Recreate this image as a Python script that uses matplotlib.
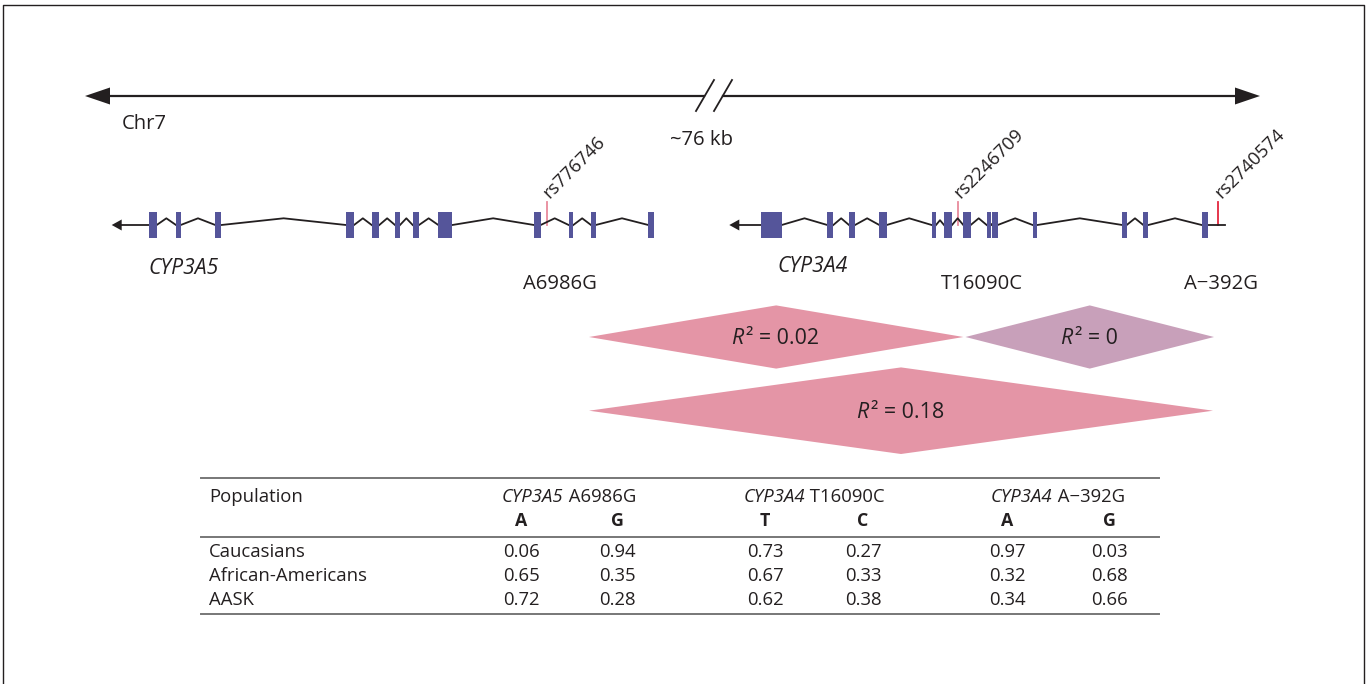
import numpy as np
import matplotlib
matplotlib.use("Agg")
import matplotlib.pyplot as plt
from matplotlib.patches import Polygon, Rectangle

# gene models (exon start/end along the drawn chromosome axis)
cyp3a5_exons=[(149,156.7),(176,180.7),(215.3,221.3),(346,354),(371.7,379.3),(395,400),
              (412.7,419),(438.3,452.3),(534,540.7),(568.7,573.3),(591,595.7),(648.3,654.3)]
cyp3a4_exons=[(760.7,781.7),(827.3,833.3),(849,855),(879.3,886.7),(931.7,936),(944,952),
              (963.3,970.7),(986.7,990.7),(992.3,997.7),(1032.7,1037.3),(1122.3,1126.7),
              (1143.3,1148.3),(1201.7,1208.3)]
genes=['CYP3A5','CYP3A4']

# SNPs
snp_pos=[546.7,957.7,1218.3]
snp_ids=['rs776746','rs2246709','rs2740574']
snp_names=['A6986G','T16090C','A\u2212392G']

# pairwise LD
r2_vals=[0.02,0,0.18]

# allele frequencies
populations=['Caucasians','African-Americans','AASK']
alleles=['A','G','T','C','A','G']
freqs=[[0.06,0.94,0.73,0.27,0.97,0.03],
       [0.65,0.35,0.67,0.33,0.32,0.68],
       [0.72,0.28,0.62,0.38,0.34,0.66]]

# style
FF=['Open Sans','DejaVu Sans']
plt.rcParams['font.family']=FF
FS=13.3   # table
FL=14.6   # labels
K='#231f20'
exc='#55559a'
snpc=['#e88a9c','#e88a9c','#e3263e']
pink='#e495a6'; mauve='#c8a0ba'; rulec='#777777'

fig=plt.figure(figsize=(13.67,6.84),dpi=100)
ax=fig.add_axes([0,0,1,1])
ax.set_xlim(0,1367); ax.set_ylim(684,0); ax.axis('off')
rend=fig.canvas.get_renderer()

# italic part followed by upright part, centred on x
def mixed(x,y,it,rm,fs,gap=0):
    t1=ax.text(x,y,it,fontsize=fs,style='italic',color=K,ha='left',va='center')
    t2=ax.annotate(rm,xy=(1,0),xycoords=t1,xytext=(gap,0),textcoords='offset points',
                   fontsize=fs,color=K,ha='left',va='bottom')
    w=t1.get_window_extent(rend).width+t2.get_window_extent(rend).width+gap*100/72
    t1.set_x(x-w/2)

# frame
ax.plot([3,3,1364,1364],[684,5,5,684],color=K,lw=1.0)

# chromosome arrow with break
yc=96
ax.plot([107,704],[yc,yc],color=K,lw=1.6)
ax.plot([723,1238],[yc,yc],color=K,lw=1.6)
ax.add_patch(Polygon([[85,yc],[110,yc-8.5],[110,yc+8.5]],closed=True,color=K,lw=0))
ax.add_patch(Polygon([[1260,yc],[1235,yc-8.5],[1235,yc+8.5]],closed=True,color=K,lw=0))
ax.plot([696,714],[111,80],color=K,lw=1.3)
ax.plot([714,732],[111,80],color=K,lw=1.3)
ax.text(122,124,'Chr7',fontsize=FL,color=K,ha='left',va='center')
ax.text(701,140,'~76 kb',fontsize=FL,color=K,ha='center',va='center')

# genes
yg=225
def draw_gene(exons,tip,end=None):
    ax.plot([tip+8,exons[0][0]],[yg,yg],color=K,lw=1.3,zorder=2)
    ax.add_patch(Polygon([[tip,yg],[tip+10,yg-5.5],[tip+10,yg+5.5]],closed=True,color=K,lw=0))
    for (a0,b0),(a1,b1) in zip(exons[:-1],exons[1:]):
        h=min(6.7,(a1-b0)*0.6)
        ax.plot([b0,(b0+a1)/2,a1],[yg,yg-h,yg],color=K,lw=1.3,zorder=2)
    if end is not None:
        ax.plot([exons[-1][1],end],[yg,yg],color=K,lw=1.3,zorder=2)
    for a,b in exons:
        ax.add_patch(Rectangle((a,yg-13.3),b-a,26.6,color=exc,lw=0,zorder=3))

draw_gene(cyp3a5_exons,111.7)
draw_gene(cyp3a4_exons,729.3,end=1225)
ax.text(184,268,genes[0],fontsize=FL+0.6,style='italic',color=K,ha='center',va='center')
ax.text(813,266,genes[1],fontsize=FL+0.6,style='italic',color=K,ha='center',va='center')

for i0,x0 in enumerate(snp_pos):
    ax.plot([x0,x0],[202,yg],color=snpc[i0],lw=1.3,zorder=1)
    ax.text(x0+3,199,snp_ids[i0],fontsize=FS,color=K,rotation=45,rotation_mode='anchor',
            ha='left',va='baseline')
ax.text(560,284,snp_names[0],fontsize=FL,color=K,ha='center',va='center')
ax.text(982,284,snp_names[1],fontsize=FL,color=K,ha='center',va='center')
ax.text(1221,284,snp_names[2],fontsize=FL,color=K,ha='center',va='center')

# LD diamonds: (left, right, y centre, half height)
dia=[(589,963.4,337,31.6),(965.5,1214,337,31.6),(589,1213,410.7,43.3)]
dcol=[pink,mauve,pink]
for i0,(l,r,ym,hh) in enumerate(dia):
    xm=(l+r)/2
    ax.add_patch(Polygon([[l,ym],[xm,ym-hh],[r,ym],[xm,ym+hh]],closed=True,color=dcol[i0],lw=0))
    mixed(xm-1,ym+2,'R','\u00b2 = %g'%r2_vals[i0],FL+0.8,gap=1.8)

# table
tl,tr=201,1159
for yr in [477.5,536.5,613.5]:
    ax.plot([tl,tr],[yr,yr],color=rulec,lw=1.4)
colx=[521,617,765,863,1007,1109]
ax.text(209,497,'Population',fontsize=FS,color=K,ha='left',va='center')
for i0 in range(3):
    xm=(colx[2*i0]+colx[2*i0+1])/2
    mixed(xm,497,genes[0] if i0==0 else genes[1],' '+snp_names[i0],FS)
for i0,a in enumerate(alleles):
    ax.text(colx[i0],521,a,fontsize=FS-0.5,fontweight='bold',color=K,ha='center',va='center')
rowy=[552,576,600]
for i0,p in enumerate(populations):
    ax.text(209,rowy[i0],p,fontsize=FS,color=K,ha='left',va='center')
    for i1,v in enumerate(freqs[i0]):
        ax.text(colx[i1],rowy[i0],'%.2f'%v,fontsize=FS,color=K,ha='center',va='center')

fig.savefig('out.png',dpi=100)
